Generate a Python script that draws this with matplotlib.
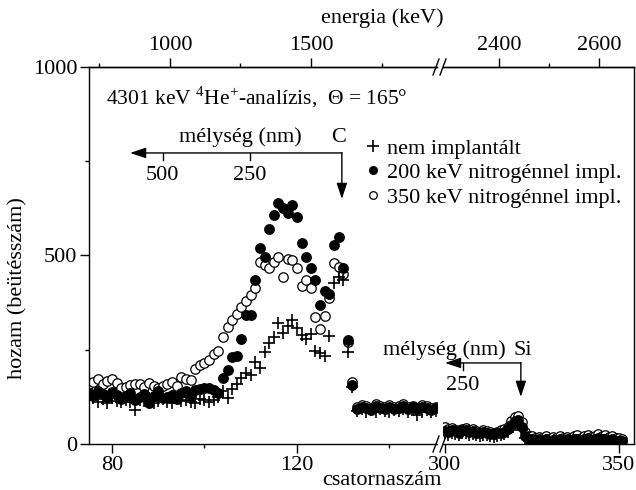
import numpy as np
import matplotlib
matplotlib.use("Agg")
import matplotlib.pyplot as plt
from matplotlib.lines import Line2D

plt.rcParams['font.family'] = 'Liberation Serif'
plt.rcParams['mathtext.fontset'] = 'custom'
plt.rcParams['mathtext.rm'] = 'Liberation Serif'
plt.rcParams['font.size'] = 16

# ── adatok: csatorna 75..150 (bal szakasz) ──────────────────
ch_left = list(range(75, 151))
open350_left = [158, 165, 172, 160, 166, 172, 161, 148, 152, 156,
                159, 159, 150, 161, 155, 148, 153, 160, 164, 155,
                177, 172, 169, 200, 209, 214, 222, 240, 248, 283,
                310, 328, 346, 363, 378, 394, 413, 484, 474, 468,
                484, 495, 442, 492, 487, 466, 418, 434, 413, 336,
                304, 339, 386, 479, 470, 452, 270, 165, 98, 104,
                100, 95, 105, 102, 98, 103, 97, 100, 106, 98,
                102, 96, 104, 100, 95, 99]
filled200_left = [135, 128, 140, 132, 125, 138, 130, 120, 128, 136,
                  118, 124, 132, 108, 126, 140, 122, 125, 130, 120,
                  134, 140, 126, 143, 146, 148, 148, 142, 135, 175,
                  196, 230, 233, 278, 341, 341, 436, 519, 495, 571,
                  608, 640, 627, 614, 635, 603, 534, 495, 468, 434,
                  368, 407, 399, 529, 550, 466, 275, 156, 92, 98,
                  95, 90, 100, 96, 92, 98, 94, 96, 101, 93,
                  98, 92, 97, 95, 91, 96]
plus_left = [118, 122, 112, 120, 110, 121, 115, 111, 118, 112,
             90, 116, 113, 121, 108, 115, 119, 112, 110, 120,
             114, 118, 111, 109, 120, 116, 112, 118, 125, 140,
             122, 145, 159, 175, 188, 182, 217, 201, 243, 267,
             283, 320, 294, 312, 328, 307, 288, 278, 291, 246,
             241, 233, 286, 426, 442, 434, 243, 150, 88, 92,
             85, 90, 86, 93, 88, 84, 90, 87, 92, 85,
             89, 78, 86, 91, 84, 88]

# ── adatok: csatorna 300..351 (jobb szakasz) ────────────────
ch_right = list(range(300, 352))
open350_right = [45, 40, 43, 38, 36, 40, 42, 37, 39, 35,
                 33, 36, 34, 31, 30, 33, 36, 40, 46, 60,
                 72, 75, 58, 32, 20, 22, 16, 19, 15, 21,
                 14, 18, 16, 22, 17, 19, 14, 21, 23, 17,
                 20, 25, 18, 22, 26, 20, 25, 18, 22, 15,
                 16, 12]
filled200_right = [35, 32, 37, 34, 30, 36, 38, 33, 35, 30,
                   29, 32, 30, 27, 26, 28, 30, 33, 40, 50,
                   60, 63, 45, 22, 12, 14, 10, 12, 9, 13,
                   8, 11, 10, 13, 9, 12, 8, 12, 14, 10,
                   12, 15, 10, 13, 15, 12, 14, 10, 12, 8,
                   9, 7]
plus_right = [28, 25, 30, 26, 24, 28, 30, 25, 27, 23,
              22, 25, 23, 20, 19, 21, 24, 27, 32, 42,
              50, 52, 36, 16, 8, 10, 6, 9, 5, 10,
              5, 8, 6, 10, 5, 8, 4, 9, 10, 6,
              8, 11, 6, 9, 11, 8, 10, 6, 8, 5,
              6, 4]

labels = ["nem implantált", "200 keV nitrogénnel impl.",
          "350 keV nitrogénnel impl."]

# energia skála (keV) a felső tengelyen
e_major_left = [1000, 1500]
e_minor_left = [750, 1250, 1750]
e_major_right = [2400, 2600]
e_minor_right = [2500]

W, H = 636, 490
fig = plt.figure(figsize=(W / 100, H / 100), dpi=100)


def fx(px):
    return px / W


def fy(py):
    return 1 - py / H


y_top, y_bot = 67, 444
ax1 = fig.add_axes([fx(89), fy(y_bot), (437 - 89) / W, (y_bot - y_top) / H])
ax2 = fig.add_axes([fx(443), fy(y_bot), (634 - 443) / W, (y_bot - y_top) / H])

for ax, ch, o, f, p in [(ax1, ch_left, open350_left, filled200_left, plus_left),
                        (ax2, ch_right, open350_right, filled200_right, plus_right)]:
    ax.plot(ch, o, 'o', ms=6.8, mfc='white', mec='black', mew=0.9, ls='none')
    ax.plot(ch, f, 'o', ms=6.8, color='black', ls='none')
    ax.plot(ch, p, '+', ms=8.5, mew=1.2, color='black', ls='none')
    ax.set_ylim(0, 1000)
    for s in ax.spines.values():
        s.set_linewidth(1.0)
    ax.tick_params(which='major', direction='out', length=6.5, width=1, pad=2)
    ax.tick_params(which='minor', direction='out', length=3, width=1)

ax1.set_xlim(75.03, 150.27)
ax2.set_xlim(299.43, 354.31)

ax1.set_xticks([80, 120])
ax1.set_xticks([100, 140], minor=True)
ax1.set_yticks([0, 500, 1000])
ax1.set_yticks([250, 750], minor=True)
ax1.spines['right'].set_visible(False)

ax2.set_xticks([300, 350])
ax2.set_yticks([])
ax2.spines['left'].set_visible(False)
ax2.patch.set_alpha(0)


# csatorna <-> energia
def ch2e_l(c):
    return 1000 + (np.asarray(c) - 92.54) / 0.06098


def e2ch_l(e):
    return 92.54 + (np.asarray(e) - 1000) * 0.06098


def ch2e_r(c):
    return 2400 + (np.asarray(c) - 315.5) * 6.957


def e2ch_r(e):
    return 315.5 + (np.asarray(e) - 2400) / 6.957


sec1 = ax1.secondary_xaxis('top', functions=(ch2e_l, e2ch_l))
sec1.set_xticks(e_major_left)
sec1.set_xticks(e_minor_left, minor=True)
sec2 = ax2.secondary_xaxis('top', functions=(ch2e_r, e2ch_r))
sec2.set_xticks(e_major_right)
sec2.set_xticks(e_minor_right, minor=True)
for sec in (sec1, sec2):
    sec.tick_params(which='major', direction='out', length=6.5, width=1, pad=2)
    sec.tick_params(which='minor', direction='out', length=3, width=1)
    sec.spines['top'].set_linewidth(1.0)

# tengelytörés jelek
for yb in (y_top, y_bot):
    for xc in (436, 443):
        fig.add_artist(Line2D([fx(xc - 3), fx(xc + 3)], [fy(yb + 8), fy(yb - 8)],
                              color='black', lw=1.0))

# szövegek
fig.text(fx(382), fy(18), "energia (keV)", ha='center', va='center')
fig.text(fx(382), fy(480), "csatornaszám", ha='center', va='center')
fig.text(fx(18), fy(288), "hozam (beütésszám)", ha='center', va='center',
         rotation=90)
ax1.text(0.049, 0.920, r"4301 keV $^{4}$He$^{+}$-analízis,  Θ = 165°",
         transform=ax1.transAxes, ha='left', va='center', fontsize=15.5)

arrow = dict(arrowstyle='-|>,head_length=0.6,head_width=0.2', color='black',
             lw=1.0, shrinkA=0, shrinkB=0)

# C mélységskála
ax1.annotate("", xy=(83.9, 772), xytext=(129.7, 772), arrowprops=arrow)
ax1.annotate("", xy=(129.7, 650), xytext=(129.7, 773), arrowprops=arrow)
for c, lab in [(91.0, "500"), (109.8, "250")]:
    ax1.plot([c, c], [772, 752], color='black', lw=1.0)
    ax1.text(c, 713, lab, ha='center', va='center')
ax1.text(107.7, 814, "mélység (nm)", ha='center', va='center')
ax1.text(128.9, 814, "C", ha='center', va='center')

# Si mélységskála
ax2.annotate("", xy=(300.0, 215), xytext=(321.8, 215), arrowprops=arrow)
ax2.annotate("", xy=(321.8, 125), xytext=(321.8, 216), arrowprops=arrow)
ax2.plot([305.2, 305.2], [215, 195], color='black', lw=1.0)
ax2.text(305.2, 154, "250", ha='center', va='center')
ax2.text(299.7, 249, "mélység (nm)", ha='center', va='center')
ax2.text(322.4, 249, "Si", ha='center', va='center')

# jelmagyarázat
handles = [Line2D([], [], marker='+', ms=8, mew=1.2, color='black', ls='none'),
           Line2D([], [], marker='o', ms=5.5, color='black', ls='none'),
           Line2D([], [], marker='o', ms=5.5, mfc='white', mec='black', mew=0.9,
                  ls='none')]
fig.legend(handles, labels, loc='upper left', bbox_to_anchor=(fx(366), fy(138)),
           frameon=False, handlelength=0.65, handletextpad=0.3,
           labelspacing=0.18, borderpad=0, borderaxespad=0)

fig.savefig("out.png", dpi=100)
